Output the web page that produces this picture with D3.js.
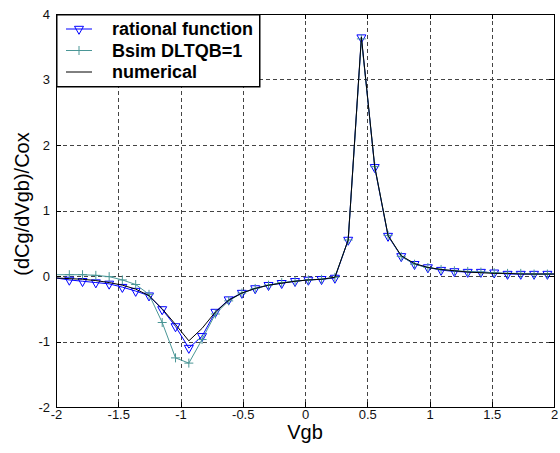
<!DOCTYPE html>
<html>
<head>
<meta charset="utf-8">
<script src="https://cdn.jsdelivr.net/npm/d3@7"></script>
<style>
  body { margin: 0; background: #fff; }
  svg { display: block; font-family: Arial, "Liberation Sans", sans-serif; }
</style>
</head>
<body>
<div id="chart"></div>
<script>
// Vgb sample points (shared by the three curves)
var vgb = [-2.000, -1.893, -1.787, -1.680, -1.573, -1.467, -1.360, -1.253, -1.147, -1.040,
           -0.933, -0.827, -0.720, -0.613, -0.507, -0.400, -0.293, -0.187, -0.080, 0.027,
           0.133, 0.240, 0.347, 0.453, 0.560, 0.667, 0.773, 0.880, 0.987, 1.093,
           1.200, 1.307, 1.413, 1.520, 1.627, 1.733, 1.840, 1.947, 2.000];

var rational = [-0.03, -0.06, -0.08, -0.10, -0.12, -0.17, -0.23, -0.30, -0.51, -0.77,
                -1.10, -0.92, -0.55, -0.36, -0.26, -0.19, -0.14, -0.11, -0.08, -0.06,
                -0.05, -0.03, 0.55, 3.64, 1.66, 0.61, 0.30, 0.18, 0.13, 0.09,
                0.07, 0.06, 0.06, 0.05, 0.03, 0.03, 0.03, 0.03, 0.03];

var bsim = [0.02, 0.02, 0.02, 0.01, -0.01, -0.06, -0.13, -0.28, -0.71, -1.25,
            -1.33, -0.97, -0.58, -0.38, -0.26, -0.19, -0.14, -0.10, -0.08, -0.06,
            -0.05, -0.02, 0.55, 3.62, 1.67, 0.62, 0.30, 0.18, 0.13, 0.10,
            0.08, 0.07, 0.06, 0.05, 0.04, 0.04, 0.03, 0.03, 0.03];

var numerical = [-0.03, -0.04, -0.05, -0.07, -0.10, -0.14, -0.20, -0.30, -0.50, -0.74,
                 -0.99, -0.80, -0.55, -0.37, -0.26, -0.19, -0.14, -0.11, -0.08, -0.06,
                 -0.05, -0.02, 0.55, 3.65, 1.67, 0.62, 0.31, 0.19, 0.13, 0.10,
                 0.08, 0.06, 0.05, 0.04, 0.04, 0.03, 0.03, 0.03, 0.03];

var xTicks = [-2, -1.5, -1, -0.5, 0, 0.5, 1, 1.5, 2];
var yTicks = [-2, -1, 0, 1, 2, 3, 4];
var legendLabels = ['rational function', 'Bsim DLTQB=1', 'numerical'];

var width = 560, height = 453;
var plotL = 56, plotR = 554, plotT = 14, plotB = 407;

var blue = '#0000ff', teal = '#4a9696', black = '#000';

var svg = d3.select('#chart').append('svg')
    .attr('width', width)
    .attr('height', height);

var x = d3.scaleLinear().domain([-2, 2]).range([plotL, plotR]);
var y = d3.scaleLinear().domain([-2, 4]).range([plotB, plotT]);

svg.append('defs').append('clipPath').attr('id', 'plotClip')
  .append('rect')
    .attr('x', plotL).attr('y', plotT)
    .attr('width', plotR - plotL).attr('height', plotB - plotT);

// dashed grid
var grid = svg.append('g').attr('shape-rendering', 'crispEdges');
grid.selectAll('line.vx')
    .data(xTicks.slice(1, -1))
    .enter().append('line')
    .attr('x1', function(d){ return Math.round(x(d)) + 0.5; })
    .attr('x2', function(d){ return Math.round(x(d)) + 0.5; })
    .attr('y1', plotT).attr('y2', plotB)
    .attr('stroke', '#444').attr('stroke-dasharray', '4,3');
grid.selectAll('line.hy')
    .data(yTicks.slice(1, -1))
    .enter().append('line')
    .attr('y1', function(d){ return Math.round(y(d)) + 0.5; })
    .attr('y2', function(d){ return Math.round(y(d)) + 0.5; })
    .attr('x1', plotL).attr('x2', plotR)
    .attr('stroke', '#444').attr('stroke-dasharray', '4,3');

// tick labels through d3 axes
var xAxis = svg.append('g')
    .attr('transform', 'translate(0,' + plotB + ')')
    .call(d3.axisBottom(x).tickValues(xTicks).tickSize(0).tickPadding(3)
          .tickFormat(function(d){ return String(d); }));
var yAxis = svg.append('g')
    .attr('transform', 'translate(' + plotL + ',0)')
    .call(d3.axisLeft(y).tickValues(yTicks).tickSize(0).tickPadding(6)
          .tickFormat(function(d){ return String(d); }));
[xAxis, yAxis].forEach(function(a){
    a.select('.domain').remove();
    a.selectAll('text')
        .attr('font-family', 'Arial, "Liberation Sans", sans-serif')
        .attr('font-size', 13)
        .attr('fill', '#111');
});

// small inward ticks on all four sides
var ticks = svg.append('g').attr('stroke', '#000').attr('shape-rendering', 'crispEdges');
xTicks.forEach(function(d){
    var px = Math.round(x(d)) + 0.5;
    ticks.append('line').attr('x1', px).attr('x2', px).attr('y1', plotB).attr('y2', plotB - 5);
    ticks.append('line').attr('x1', px).attr('x2', px).attr('y1', plotT).attr('y2', plotT + 5);
});
yTicks.forEach(function(d){
    var py = Math.round(y(d)) + 0.5;
    ticks.append('line').attr('y1', py).attr('y2', py).attr('x1', plotL).attr('x2', plotL + 5);
    ticks.append('line').attr('y1', py).attr('y2', py).attr('x1', plotR).attr('x2', plotR - 5);
});

// curves
var plot = svg.append('g').attr('clip-path', 'url(#plotClip)');

function lineOf(values){
    return d3.line()
        .x(function(d, i){ return x(vgb[i]); })
        .y(function(d){ return y(d); })(values);
}

function triangle(g, cx, cy){
    g.append('path')
        .attr('d', 'M' + (cx - 4.5) + ',' + (cy - 2.7) + 'L' + (cx + 4.5) + ',' + (cy - 2.7) +
                   'L' + cx + ',' + (cy + 5.3) + 'Z')
        .attr('fill', 'none').attr('stroke', blue).attr('stroke-width', 1);
}
function plus(g, cx, cy){
    g.append('path')
        .attr('d', 'M' + (cx - 4.5) + ',' + cy + 'H' + (cx + 4.5) +
                   'M' + cx + ',' + (cy - 4.5) + 'V' + (cy + 4.5))
        .attr('fill', 'none').attr('stroke', teal).attr('stroke-width', 1);
}

plot.append('path').attr('d', lineOf(rational))
    .attr('fill', 'none').attr('stroke', blue).attr('stroke-width', 1);
var triG = plot.append('g');
rational.forEach(function(d, i){
    if (i === 0 || i === rational.length - 1) return; // end samples carry no marker
    triangle(triG, x(vgb[i]), y(d));
});

plot.append('path').attr('d', lineOf(bsim))
    .attr('fill', 'none').attr('stroke', teal).attr('stroke-width', 1);
var plusG = plot.append('g');
bsim.forEach(function(d, i){
    if (i === 0 || i === bsim.length - 1) return;
    plus(plusG, x(vgb[i]), y(d));
});

plot.append('path').attr('d', lineOf(numerical))
    .attr('fill', 'none').attr('stroke', black).attr('stroke-width', 1);

// axes box
svg.append('rect')
    .attr('x', plotL + 0.5).attr('y', plotT + 0.5)
    .attr('width', plotR - plotL).attr('height', plotB - plotT)
    .attr('fill', 'none').attr('stroke', '#000').attr('shape-rendering', 'crispEdges');

// axis titles
svg.append('text')
    .attr('x', (plotL + plotR) / 2).attr('y', 439)
    .attr('text-anchor', 'middle')
    .attr('font-size', 20)
    .text('Vgb');
svg.append('text')
    .attr('transform', 'translate(29,204) rotate(-90)')
    .attr('text-anchor', 'middle')
    .attr('font-size', 20)
    .text('(dCg/dVgb)/Cox');

// legend
var legend = svg.append('g');
var legendBox = legend.append('rect')
    .attr('fill', '#fff').attr('stroke', '#000').attr('stroke-width', 1.5);
var rowY = [29, 50.5, 72];
var texts = legend.selectAll('text')
    .data(legendLabels)
    .enter().append('text')
    .attr('x', 112)
    .attr('y', function(d, i){ return rowY[i] + 6; })
    .attr('font-size', 18)
    .attr('font-weight', 'bold')
    .text(function(d){ return d; });
var maxRight = 0;
texts.each(function(){
    var b = this.getBBox();
    maxRight = Math.max(maxRight, b.x + b.width);
});
legendBox
    .attr('x', plotL + 0.75).attr('y', plotT + 0.75)
    .attr('width', maxRight + 6 - plotL).attr('height', 86 - plotT);
texts.raise();

var colors = [blue, teal, black];
rowY.forEach(function(ry, i){
    legend.append('line')
        .attr('x1', 66).attr('x2', 92).attr('y1', ry).attr('y2', ry)
        .attr('stroke', colors[i]).attr('stroke-width', 1);
});
triangle(legend, 79, rowY[0]);
plus(legend, 79, rowY[1]);
</script>
</body>
</html>
